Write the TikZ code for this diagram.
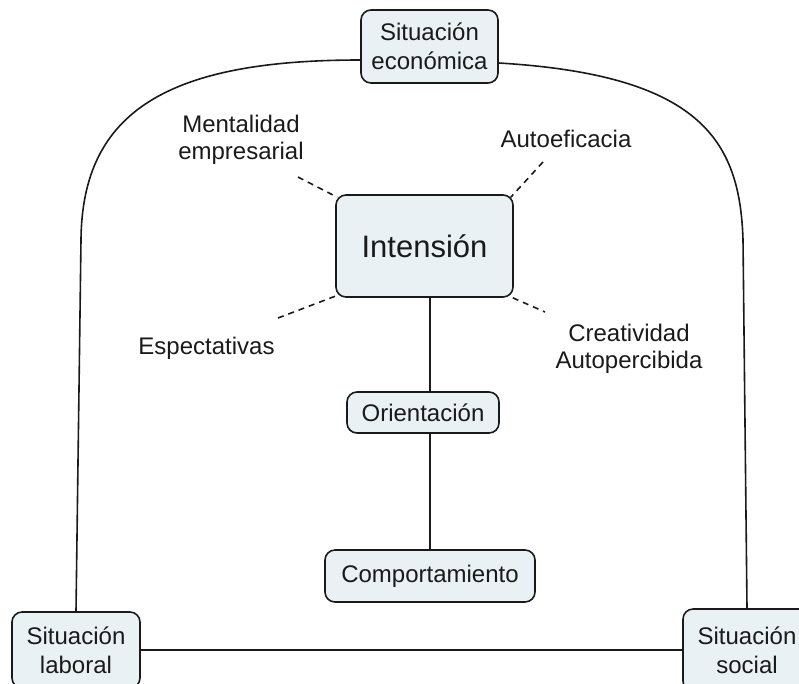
\documentclass[tikz,border=0pt]{standalone}
\usepackage{fontspec}
\setmainfont{Liberation Sans}
\usetikzlibrary{calc}
\definecolor{boxfill}{HTML}{E9F1F4}
\definecolor{ink}{HTML}{1A1A1A}
\begin{document}
\begin{tikzpicture}[x=1pt,y=-1pt,
  box/.style={draw=ink, rounded corners=10pt, fill=boxfill, line width=1.6pt,
    inner sep=0pt, align=center, text=ink, font=\fontsize{24}{29}\selectfont},
  lbl/.style={align=center, inner sep=0pt, anchor=base, text=ink,
    font=\fontsize{24}{27}\selectfont},
  link/.style={line width=1.6pt, draw=ink},
  dashlink/.style={link, dash pattern=on 6pt off 5pt}]
\useasboundingbox (0,0) rectangle (799,683);
\clip (0,0) rectangle (799,683);

% boxes
\node[box, minimum width=137pt, minimum height=73pt] (econ) at (429.5,46.5) {Situación\\económica};
\node[box, minimum width=177pt, minimum height=102pt, font=\fontsize{31}{36}\selectfont] (int) at (424.5,246) {Intensión};
\node[box, minimum width=152pt, minimum height=41pt] (ori) at (423,412.5) {Orientación};
\node[box, minimum width=210pt, minimum height=52pt] (com) at (430,576) {Comportamiento};
\node[box, minimum width=128pt, minimum height=76pt] (lab) at (76,650) {Situación\\laboral};
\node[box, minimum width=128pt, minimum height=82pt] (soc) at (747,650) {Situación\\social};

% free labels around the intention box (base = baseline of the last line)
\node[lbl] (ment) at (241,159) {Mentalidad\\empresarial};
\node[lbl] (auto) at (566,147) {Autoeficacia};
\node[lbl] (esp) at (206.5,354) {Espectativas};
\node[lbl] (crea) at (629,368) {Creatividad\\Autopercibida};

% dashed ties
\coordinate (mentTip) at (298,177);
\coordinate (autoTip) at (543,162);
\coordinate (espTip) at (278,318);
\coordinate (creaTip) at (545,312);
\draw[dashlink] (mentTip) -- ($(int.north west)+(2,3)$);
\draw[dashlink] (autoTip) -- ($(int.north east)+(-3,3)$);
\draw[dashlink] (espTip) -- ($(int.south west)+(1,-2)$);
\draw[dashlink] ($(int.south east)+(-1,0)$) -- (creaTip);

% central chain
\draw[link] (int.south -| com.north) -- (ori.north -| com.north);
\draw[link] (ori.south -| com.north) -- (com.north);

% outer loop
\draw[link] ($(econ.west)+(0,13.5)$) .. controls (170,60) and (82,110) .. (81,240) -- (lab.north);
\draw[link] ($(econ.east)+(0,16.5)$) .. controls (700,75) and (740,140) .. (743,240) -- (soc.north);
\draw[link] (lab.east) -- (soc.west);
\end{tikzpicture}
\end{document}
